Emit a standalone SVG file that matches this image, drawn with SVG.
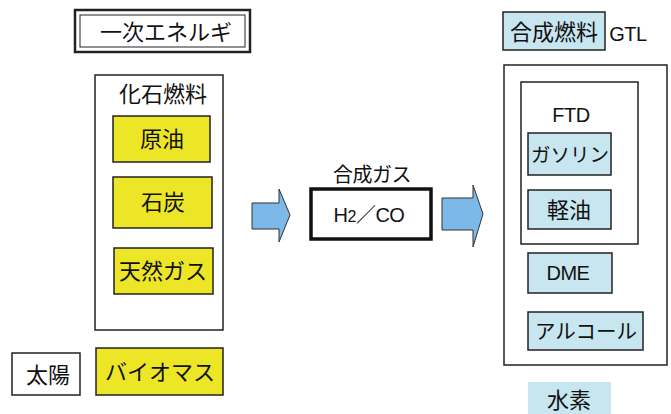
<svg xmlns="http://www.w3.org/2000/svg" width="671" height="414" viewBox="0 0 671 414">
<style>
text{font-family:"Liberation Sans","Noto Sans CJK JP",sans-serif;fill:#111;text-anchor:middle}
.j{font-size:22px}
.l{font-size:20px;letter-spacing:-0.5px}
.y{fill:#ece626;stroke:#222;stroke-width:1.5}
.b{fill:#c7e6ef;stroke:#222;stroke-width:1.5}
.w{fill:#fff;stroke:#222;stroke-width:1.5}
.arr{fill:#7cb9e8;stroke:#333;stroke-width:1}
</style>
<rect width="671" height="414" fill="#fff"/>
<g id="primary">
<rect x="75" y="10" width="175" height="42" fill="#fff" stroke="#222" stroke-width="2.5"/>
<rect x="80" y="15" width="165" height="32" fill="none" stroke="#222" stroke-width="1"/>
<text class="j" x="166" y="40">一次エネルギ</text>
</g>
<g id="fossil">
<rect class="w" x="95" y="75" width="128" height="255"/>
<text class="j" x="163" y="102">化石燃料</text>
</g>
<g id="crude"><rect class="y" x="113" y="116" width="97" height="46"/><text class="j" x="162" y="147">原油</text></g>
<g id="coal"><rect class="y" x="113" y="177" width="99" height="51"/><text class="j" x="163" y="210">石炭</text></g>
<g id="gas"><rect class="y" x="114" y="248" width="99" height="46"/><text class="j" x="163" y="279">天然ガス</text></g>
<g id="sun"><rect class="w" x="12" y="353" width="68" height="42"/><text class="j" x="48" y="383">太陽</text></g>
<g id="biomass"><rect class="y" x="96" y="348" width="127" height="47"/><text class="j" x="160" y="380">バイオマス</text></g>
<g id="connectors">
<path class="arr" d="M252,203 H279 V189 L290,215 L279,242 V229 H252 Z"/>
<path class="arr" d="M442,198 H473 V185 L483,214 L473,247 V230 H442 Z"/>
</g>
<g id="syngas">
<text class="l" x="372" y="182">合成ガス</text>
<rect x="311" y="189" width="120" height="50" fill="#fff" stroke="#111" stroke-width="3.5"/>
<text class="l" x="369" y="222">H<tspan font-size="16">2</tspan>／CO</text>
</g>
<g id="synfuel">
<rect class="b" x="503" y="12" width="102" height="38"/>
<text class="j" x="554" y="40">合成燃料</text>
<text class="l" x="628" y="41">GTL</text>
</g>
<g id="outer"><rect class="w" x="504" y="65" width="163" height="300"/></g>
<g id="ftd">
<rect class="w" x="521" y="82" width="117" height="162"/>
<text class="l" x="571" y="122">FTD</text>
</g>
<g id="gasoline"><rect class="b" x="528" y="133" width="83" height="42"/><text class="j" x="570" y="162" font-size="19.5" style="font-size:19.5px">ガソリン</text></g>
<g id="diesel"><rect class="b" x="528" y="190" width="83" height="39"/><text class="j" x="569" y="218">軽油</text></g>
<g id="dme"><rect class="b" x="528" y="253" width="84" height="40"/><text class="l" x="568" y="280">DME</text></g>
<g id="alcohol"><rect class="b" x="528" y="312" width="115" height="38"/><text class="j" x="586" y="339" style="font-size:20.5px">アルコール</text></g>
<g id="hydrogen"><rect x="528" y="382" width="83" height="32" fill="#c7e6ef"/><text class="j" x="569" y="408">水素</text></g>
</svg>
